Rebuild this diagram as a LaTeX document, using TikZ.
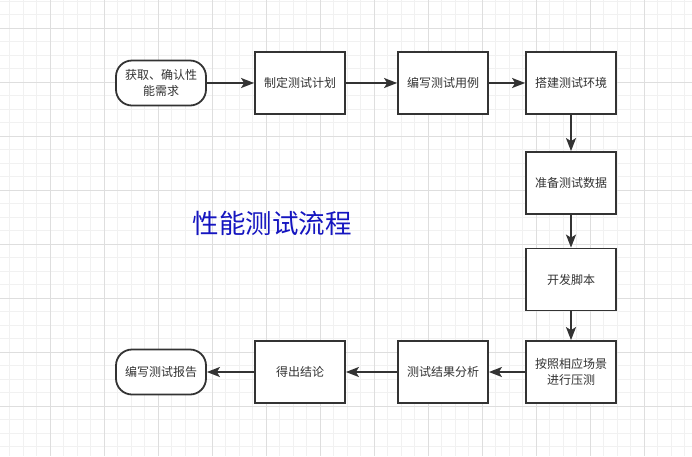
\documentclass[tikz,border=0pt]{standalone}
\usepackage{fontspec}
\newfontfamily\cjk{Noto Sans CJK SC}
\usetikzlibrary{arrows.meta}
\definecolor{linec}{HTML}{333333}
\definecolor{textc}{HTML}{333333}
\definecolor{gridminor}{HTML}{F1F1F1}
\definecolor{gridmajor}{HTML}{DEDEDE}
\definecolor{titlec}{HTML}{1515C0}
\tikzset{
  proc/.style={draw=linec, line width=1.8pt, fill=white, minimum width=90pt,
    minimum height=62pt, inner sep=0pt, text=textc, align=center,
    font=\cjk\fontsize{12}{16}\selectfont},
  term/.style={proc, rounded corners=16pt, minimum height=45pt},
  arr/.style={draw=linec, line width=1.8pt, -{Stealth[length=13pt,width=10pt,inset=3pt]}},
  gminor/.style={draw=gridminor, line width=1pt},
  gmajor/.style={draw=gridmajor, line width=1pt}
}
\begin{document}
\begin{tikzpicture}[x=1pt,y=-1pt]
\useasboundingbox (0,0) rectangle (692,456);
\fill[white] (0,0) rectangle (692,456);
% grid
\foreach \i in {0,...,52} \draw[gminor] ({-4+13.5*\i},0) -- ({-4+13.5*\i},456);
\foreach \i in {0,...,33} \draw[gminor] (0,{1+13.5*\i}) -- (692,{1+13.5*\i});
\foreach \i in {0,...,12} \draw[gmajor] ({-4+54*\i},0) -- ({-4+54*\i},456);
\foreach \i in {0,...,7} \draw[gmajor] (0,{28+54*\i}) -- (692,{28+54*\i});
% nodes
\node[term] (start) at (161,83) {获取、确认性\\能需求};
\node[proc] (plan) at (300,83) {制定测试计划};
\node[proc] (cases) at (443,83) {编写测试用例};
\node[proc] (env) at (571,83) {搭建测试环境};
\node[proc] (data) at (571,183) {准备测试数据};
\node[proc] (script) at (571,279.5) {开发脚本};
\node[proc] (load) at (571,372) {按照相应场景\\进行压测};
\node[proc] (analysis) at (443,372) {测试结果分析};
\node[proc] (concl) at (300,372) {得出结论};
\node[term] (report) at (161,372) {编写测试报告};
\node[text=titlec, font=\cjk\fontsize{26.5}{30}\selectfont] (title) at (272,223) {性能测试流程};
% connectors
\draw[arr] (start) -- (plan);
\draw[arr] (plan) -- (cases);
\draw[arr] (cases) -- (env);
\draw[arr] (env) -- (data);
\draw[arr] (data) -- (script);
\draw[arr] (script) -- (load);
\draw[arr] (load) -- (analysis);
\draw[arr] (analysis) -- (concl);
\draw[arr] (concl) -- (report);
\end{tikzpicture}
\end{document}
